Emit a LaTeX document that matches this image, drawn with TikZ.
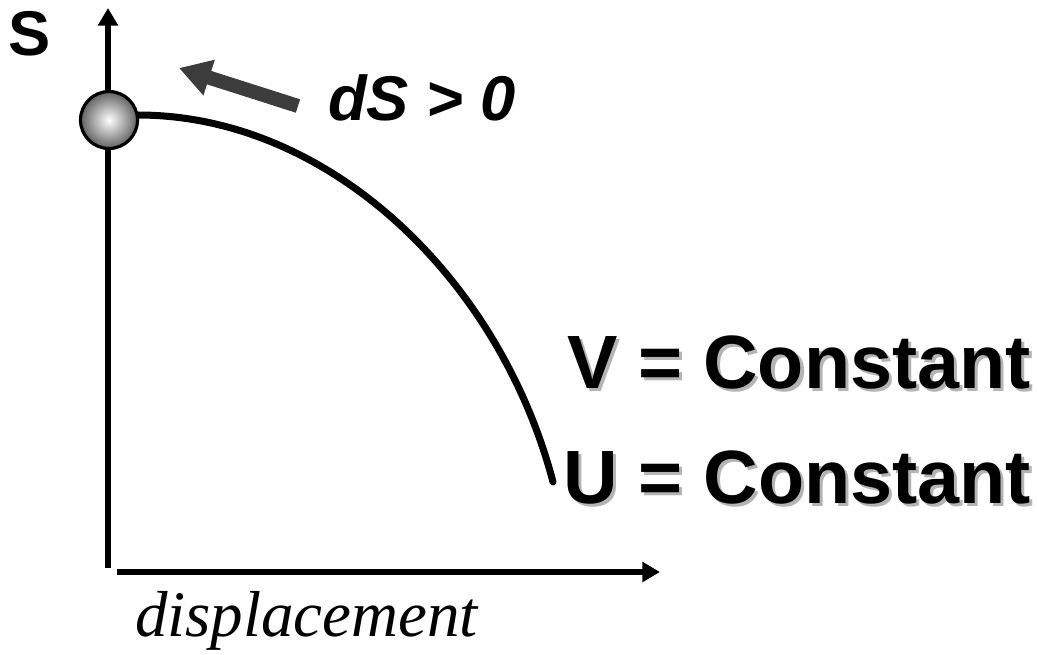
\documentclass[tikz,border=0pt]{standalone}
\usepackage{fontspec}
\setmainfont{Liberation Serif}
\setsansfont{Liberation Sans}
\usetikzlibrary{arrows.meta}
\definecolor{arrowgrey}{HTML}{3C3C3C}
\definecolor{shadowgrey}{HTML}{B4B4B4}
\newcommand\shadowtxt[1]{\leavevmode\rlap{\kern1.8pt\raisebox{-1.8pt}{\textcolor{shadowgrey}{#1}}}#1}
\tikzset{
  axis/.style={line width=3.8pt,-{Triangle[length=10pt,width=11pt]}},
  curveline/.style={line width=4pt,line cap=round},
  bigtext/.style={inner sep=0pt,outer sep=0pt,anchor=base west,font=\sffamily\bfseries\fontsize{43}{43}\selectfont},
  plain/.style={inner sep=0pt,outer sep=0pt,anchor=base west},
}
\begin{document}
\begin{tikzpicture}[x=0.02cm,y=-0.02cm]
\useasboundingbox (0,0) rectangle (1037,654);
% axes
\coordinate (origin) at (108,568);
\coordinate (ytip) at (108,8);
\coordinate (xstart) at (117,572);
\coordinate (xtip) at (660,572);
\draw[axis] (origin) -- (ytip);
\draw[axis] (xstart) -- (xtip);
% curve
\coordinate (cend) at (553,482);
\draw[curveline] (138,115) .. controls (330,115) and (500,280) .. (cend);
% ball
\node[circle,minimum size=1.14cm,inner sep=0pt,draw=black,line width=1.8pt,shading=radial,inner color=white,outer color=black!62] (ball) at (109,120) {};
% grey arrow
\coordinate (garrowstart) at (298,106);
\coordinate (garrowtip) at (179,68);
\draw[arrowgrey,line width=8pt,-{Triangle[length=18pt,width=20pt]}] (garrowstart) -- (garrowtip);
% labels
\node[plain,font=\sffamily\bfseries\fontsize{36}{36}\selectfont] (slabel) at (9,55) {S};
\node[plain,font=\sffamily\bfseries\itshape\fontsize{36}{36}\selectfont] (dslabel) at (328,120) {dS > 0};
\node[bigtext] (vlabel) at (567,388) {\shadowtxt{V = Constant}};
\node[bigtext] (ulabel) at (563,503) {\shadowtxt{U = Constant}};
\node[plain,font=\rmfamily\itshape\fontsize{37}{37}\selectfont] (xlabel) at (135,636) {displacement};
\end{tikzpicture}
\end{document}
